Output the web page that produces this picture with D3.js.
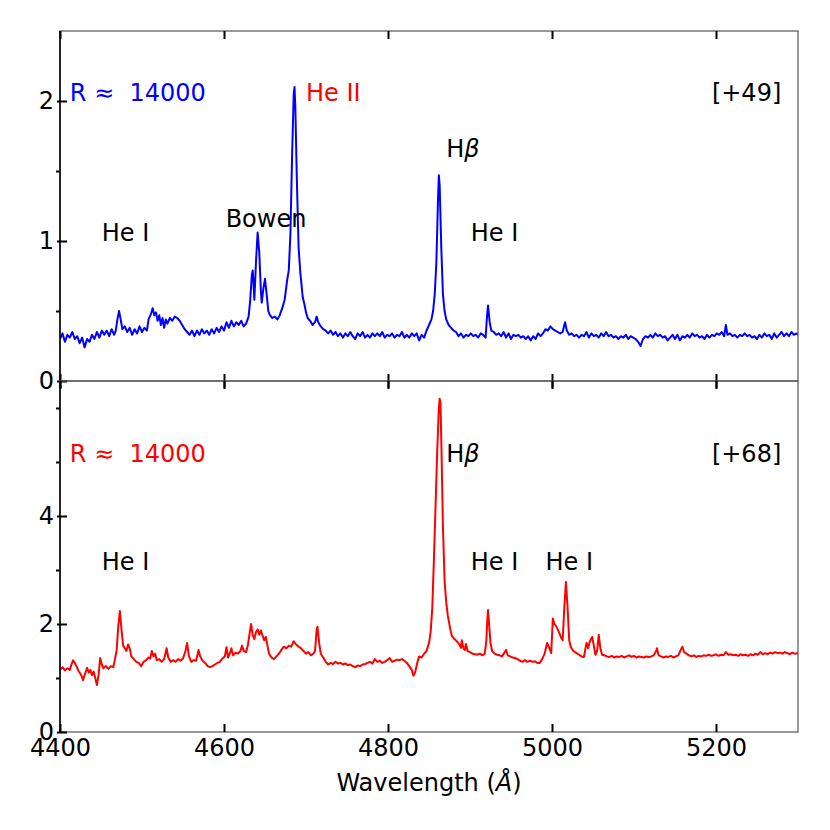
<!DOCTYPE html>
<html>
<head>
<meta charset="utf-8">
<script src="https://cdn.jsdelivr.net/npm/d3@7"></script>
<style>
  body { margin: 0; background: #fff; }
  text { font-family: "DejaVu Sans", sans-serif; white-space: pre; }
</style>
</head>
<body>
<div id="chart"></div>
<script>
// wavelength range and tick labels
const waveDomain = [4400, 5300];
const waveTicks = [4400, 4600, 4800, 5000, 5200];
const topTicks = [0, 1, 2];
const topMinor = [0.5, 1.5];
const botTicks = [0, 2, 4];
const botMinor = [1, 3, 5, 6];

// top spectrum [wavelength, flux]
const topSpec = [
  [4400,0.30],[4403,0.34],[4406,0.28],[4409,0.33],[4412,0.31],[4415,0.35],[4418,0.30],[4421,0.32],[4424,0.27],[4427,0.31],
  [4430,0.24],[4433,0.30],[4436,0.28],[4439,0.33],[4442,0.30],[4445,0.35],[4448,0.31],[4451,0.36],[4454,0.33],[4457,0.36],
  [4460,0.32],[4463,0.37],[4466,0.33],[4468,0.36],[4470,0.44],[4472,0.50],[4474,0.44],[4476,0.37],[4479,0.39],[4482,0.35],
  [4485,0.38],[4488,0.33],[4491,0.37],[4494,0.34],[4497,0.39],[4500,0.35],[4503,0.38],[4506,0.36],[4508,0.44],[4511,0.48],
  [4513,0.52],[4515,0.47],[4517,0.49],[4519,0.43],[4521,0.47],[4523,0.40],[4525,0.45],[4527,0.38],[4529,0.44],[4531,0.41],
  [4534,0.45],[4537,0.43],[4540,0.46],[4543,0.45],[4546,0.43],[4549,0.40],[4552,0.37],[4555,0.35],[4558,0.33],[4561,0.36],
  [4564,0.32],[4567,0.36],[4570,0.33],[4573,0.37],[4576,0.34],[4579,0.36],[4582,0.33],[4585,0.37],[4588,0.34],[4591,0.38],
  [4594,0.35],[4597,0.39],[4600,0.36],[4603,0.42],[4606,0.38],[4609,0.43],[4612,0.39],[4615,0.42],[4618,0.40],[4621,0.43],
  [4624,0.39],[4627,0.41],[4630,0.46],[4632,0.58],[4634,0.76],[4635,0.79],[4636,0.70],[4637,0.58],[4639,0.85],[4641,1.06],
  [4643,0.92],[4645,0.64],[4646,0.56],[4648,0.66],[4650,0.73],[4652,0.62],[4654,0.50],[4656,0.47],[4659,0.45],[4662,0.46],
  [4665,0.44],[4668,0.47],[4671,0.52],[4674,0.58],[4677,0.72],[4679,0.79],[4681,1.05],[4683,1.60],[4685,2.05],[4686,2.10],
  [4687,1.95],[4689,1.40],[4691,0.95],[4693,0.78],[4696,0.60],[4698,0.55],[4700,0.49],[4702,0.45],[4705,0.43],[4708,0.40],
  [4711,0.42],[4713,0.46],[4715,0.42],[4718,0.39],[4721,0.37],[4724,0.36],[4727,0.34],[4730,0.36],[4733,0.33],[4736,0.35],
  [4739,0.32],[4742,0.34],[4745,0.31],[4748,0.34],[4751,0.32],[4754,0.35],[4757,0.32],[4760,0.30],[4763,0.34],[4766,0.32],
  [4769,0.35],[4772,0.31],[4775,0.33],[4778,0.31],[4781,0.34],[4784,0.32],[4787,0.34],[4790,0.32],[4793,0.35],[4796,0.31],
  [4799,0.33],[4802,0.32],[4805,0.34],[4808,0.31],[4811,0.33],[4814,0.32],[4817,0.35],[4820,0.31],[4823,0.33],[4826,0.31],
  [4829,0.34],[4832,0.32],[4835,0.34],[4838,0.29],[4841,0.33],[4844,0.31],[4847,0.36],[4850,0.40],[4853,0.44],[4855,0.50],
  [4857,0.62],[4859,0.85],[4861,1.30],[4862,1.47],[4863,1.40],[4865,0.95],[4867,0.62],[4869,0.50],[4871,0.44],[4874,0.40],
  [4877,0.38],[4880,0.36],[4883,0.35],[4886,0.32],[4889,0.34],[4892,0.31],[4895,0.33],[4898,0.32],[4901,0.34],[4904,0.32],
  [4907,0.33],[4910,0.31],[4913,0.34],[4916,0.33],[4919,0.31],[4921,0.48],[4922,0.54],[4924,0.42],[4926,0.36],[4929,0.35],
  [4932,0.33],[4935,0.34],[4938,0.32],[4941,0.35],[4944,0.31],[4947,0.34],[4950,0.30],[4953,0.33],[4956,0.32],[4959,0.33],
  [4962,0.31],[4965,0.32],[4968,0.30],[4971,0.32],[4974,0.29],[4977,0.32],[4980,0.30],[4983,0.34],[4986,0.32],[4989,0.34],
  [4992,0.37],[4995,0.36],[4998,0.39],[5001,0.37],[5004,0.36],[5007,0.35],[5010,0.34],[5013,0.35],[5015,0.40],[5016,0.42],
  [5018,0.36],[5021,0.33],[5024,0.34],[5027,0.32],[5030,0.33],[5033,0.31],[5036,0.33],[5039,0.32],[5042,0.35],[5045,0.31],
  [5048,0.34],[5051,0.32],[5054,0.33],[5057,0.31],[5060,0.34],[5063,0.32],[5066,0.35],[5069,0.32],[5072,0.33],[5075,0.31],
  [5078,0.32],[5081,0.30],[5084,0.32],[5087,0.31],[5090,0.33],[5093,0.30],[5096,0.32],[5099,0.31],[5102,0.30],[5105,0.28],
  [5108,0.25],[5111,0.30],[5114,0.32],[5117,0.31],[5120,0.33],[5123,0.31],[5126,0.34],[5129,0.32],[5132,0.33],[5135,0.31],
  [5138,0.32],[5141,0.29],[5144,0.31],[5147,0.33],[5150,0.30],[5153,0.33],[5156,0.29],[5159,0.32],[5162,0.31],[5165,0.33],
  [5168,0.31],[5171,0.34],[5174,0.32],[5177,0.33],[5180,0.31],[5183,0.32],[5186,0.30],[5189,0.33],[5192,0.31],[5195,0.33],
  [5198,0.32],[5201,0.34],[5204,0.33],[5207,0.35],[5210,0.32],[5212,0.40],[5214,0.33],[5217,0.34],[5220,0.32],[5223,0.33],
  [5226,0.31],[5229,0.33],[5232,0.32],[5235,0.34],[5238,0.32],[5241,0.33],[5244,0.31],[5247,0.32],[5250,0.30],[5253,0.33],
  [5256,0.31],[5259,0.34],[5262,0.32],[5265,0.33],[5268,0.30],[5271,0.34],[5274,0.31],[5277,0.33],[5280,0.35],[5283,0.32],
  [5286,0.34],[5289,0.32],[5292,0.35],[5295,0.33],[5298,0.34],[5300,0.33]
];

// bottom spectrum [wavelength, flux]
const botSpec = [
  [4400,1.15],[4403,1.20],[4406,1.14],[4409,1.18],[4412,1.15],[4414,1.25],[4416,1.33],[4418,1.28],[4420,1.22],[4423,1.12],
  [4426,1.05],[4428,0.96],[4430,1.05],[4433,1.19],[4435,1.10],[4437,1.15],[4439,1.05],[4441,1.12],[4443,1.00],[4445,0.87],
  [4447,1.05],[4449,1.37],[4451,1.25],[4453,1.18],[4456,1.22],[4459,1.17],[4462,1.22],[4465,1.20],[4467,1.35],[4469,1.50],
  [4471,1.95],[4473,2.24],[4475,1.90],[4477,1.60],[4479,1.55],[4481,1.50],[4483,1.62],[4485,1.55],[4487,1.40],[4490,1.35],
  [4493,1.30],[4496,1.28],[4499,1.22],[4502,1.30],[4505,1.33],[4508,1.38],[4510,1.36],[4512,1.50],[4514,1.40],[4516,1.45],
  [4518,1.33],[4521,1.35],[4524,1.30],[4527,1.35],[4530,1.55],[4532,1.38],[4535,1.30],[4538,1.33],[4541,1.30],[4544,1.35],
  [4547,1.32],[4550,1.36],[4553,1.50],[4555,1.65],[4557,1.42],[4560,1.30],[4563,1.33],[4566,1.32],[4569,1.52],[4571,1.40],
  [4574,1.32],[4577,1.28],[4580,1.22],[4583,1.20],[4586,1.22],[4589,1.25],[4592,1.28],[4595,1.30],[4598,1.36],[4601,1.40],
  [4603,1.57],[4605,1.38],[4607,1.45],[4609,1.55],[4611,1.42],[4614,1.47],[4617,1.45],[4620,1.50],[4622,1.60],[4624,1.50],
  [4627,1.48],[4629,1.60],[4631,1.80],[4633,2.00],[4635,1.80],[4637,1.72],[4639,1.85],[4641,1.90],[4643,1.80],[4645,1.88],
  [4647,1.78],[4649,1.70],[4651,1.76],[4653,1.60],[4655,1.45],[4658,1.38],[4661,1.35],[4664,1.40],[4667,1.45],[4670,1.52],
  [4673,1.58],[4676,1.55],[4679,1.60],[4682,1.58],[4685,1.68],[4688,1.62],[4691,1.58],[4694,1.55],[4697,1.50],[4700,1.45],
  [4703,1.48],[4706,1.42],[4709,1.45],[4711,1.50],[4713,1.90],[4714,1.95],[4716,1.65],[4718,1.45],[4721,1.38],[4724,1.30],
  [4727,1.25],[4730,1.28],[4733,1.26],[4736,1.30],[4739,1.27],[4742,1.28],[4745,1.25],[4748,1.27],[4751,1.24],[4754,1.25],
  [4757,1.22],[4760,1.20],[4763,1.23],[4766,1.22],[4769,1.25],[4772,1.26],[4775,1.28],[4778,1.30],[4781,1.27],[4784,1.35],
  [4787,1.30],[4790,1.32],[4793,1.28],[4796,1.30],[4799,1.33],[4802,1.37],[4805,1.30],[4808,1.32],[4811,1.34],[4814,1.33],
  [4817,1.35],[4820,1.32],[4823,1.28],[4826,1.22],[4829,1.15],[4831,1.04],[4833,1.10],[4836,1.30],[4838,1.40],[4841,1.38],
  [4844,1.45],[4847,1.50],[4850,1.65],[4852,1.85],[4854,2.30],[4856,3.20],[4858,4.20],[4860,5.20],[4862,6.00],[4863,6.17],
  [4864,6.10],[4865,5.40],[4866,4.60],[4867,3.80],[4869,2.80],[4871,2.40],[4873,2.15],[4876,1.90],[4878,1.78],[4881,1.72],
  [4884,1.68],[4887,1.62],[4889,1.56],[4890,1.70],[4892,1.55],[4894,1.52],[4895,1.63],[4897,1.50],[4900,1.48],[4903,1.45],
  [4906,1.44],[4909,1.43],[4912,1.45],[4915,1.42],[4918,1.45],[4920,1.70],[4921,2.05],[4922,2.26],[4923,2.05],[4925,1.65],
  [4927,1.50],[4930,1.45],[4933,1.43],[4936,1.42],[4939,1.40],[4942,1.47],[4944,1.52],[4946,1.42],[4949,1.40],[4952,1.38],
  [4955,1.37],[4958,1.35],[4961,1.32],[4964,1.30],[4967,1.33],[4970,1.30],[4973,1.32],[4976,1.30],[4979,1.31],[4982,1.28],
  [4985,1.28],[4988,1.35],[4991,1.45],[4994,1.65],[4997,1.55],[4999,1.46],[5001,2.10],[5003,2.00],[5005,1.96],[5007,1.90],
  [5009,1.83],[5011,1.75],[5013,1.70],[5015,2.30],[5017,2.78],[5019,2.30],[5021,1.70],[5023,1.57],[5026,1.50],[5029,1.47],
  [5033,1.43],[5036,1.40],[5039,1.39],[5042,1.65],[5044,1.55],[5046,1.67],[5049,1.76],[5051,1.60],[5053,1.43],[5055,1.50],
  [5057,1.80],[5059,1.55],[5061,1.43],[5064,1.42],[5067,1.40],[5070,1.39],[5073,1.41],[5076,1.38],[5079,1.40],[5082,1.39],
  [5085,1.41],[5088,1.38],[5091,1.40],[5094,1.42],[5097,1.39],[5100,1.41],[5103,1.38],[5106,1.40],[5109,1.39],[5112,1.38],
  [5115,1.40],[5118,1.39],[5121,1.40],[5124,1.42],[5127,1.50],[5128,1.55],[5130,1.42],[5133,1.40],[5136,1.38],[5139,1.40],
  [5142,1.39],[5145,1.41],[5148,1.38],[5151,1.40],[5154,1.42],[5157,1.52],[5159,1.58],[5161,1.48],[5164,1.45],[5167,1.42],
  [5170,1.40],[5173,1.42],[5176,1.39],[5179,1.41],[5182,1.40],[5185,1.42],[5188,1.41],[5191,1.43],[5194,1.41],[5197,1.42],
  [5200,1.44],[5203,1.41],[5206,1.43],[5209,1.42],[5212,1.48],[5215,1.43],[5218,1.44],[5221,1.42],[5224,1.43],[5227,1.41],
  [5230,1.44],[5233,1.42],[5236,1.43],[5239,1.41],[5242,1.44],[5245,1.42],[5248,1.45],[5251,1.43],[5254,1.48],[5257,1.44],
  [5260,1.46],[5263,1.44],[5266,1.47],[5269,1.45],[5272,1.48],[5275,1.46],[5278,1.47],[5281,1.45],[5284,1.48],[5287,1.46],
  [5290,1.44],[5293,1.47],[5296,1.45],[5300,1.46]
];

// line labels: [text, wavelength, flux, colour]
const topLabels = [
  ["R ≈  14000", 4412, 2.0, "#0000ff"],
  ["He II", 4700, 2.0, "#ff0000"],
  ["[+49]", 5195, 2.0, "#000"],
  ["Hβ", 4871, 1.6, "#000"],
  ["He I", 4451, 1.0, "#000"],
  ["Bowen", 4602, 1.1, "#000"],
  ["He I", 4901, 1.0, "#000"]
];
const botLabels = [
  ["R ≈  14000", 4412, 5.0, "#ff0000"],
  ["Hβ", 4871, 5.0, "#000"],
  ["[+68]", 5195, 5.0, "#000"],
  ["He I", 4451, 3.0, "#000"],
  ["He I", 4901, 3.0, "#000"],
  ["He I", 4992, 3.0, "#000"]
];

const W = 830, H = 830;
const left = 60, right = 798, top1 = 31, mid = 381, bot2 = 732;

const svg = d3.select("#chart").append("svg")
  .attr("width", W).attr("height", H);

const x = d3.scaleLinear().domain(waveDomain).range([left, right]);

function panel(spec, yDomain, yTop, yBot, major, minor, labels, colour, isBottom) {
  const y = d3.scaleLinear().domain(yDomain).range([yBot, yTop]);
  const g = svg.append("g");

  g.append("clipPath").attr("id", "clip" + yTop)
    .append("rect").attr("x", left).attr("y", yTop)
    .attr("width", right - left).attr("height", yBot - yTop);

  const line = d3.line().x(d => x(d[0])).y(d => y(d[1]));
  g.append("path")
    .datum(spec)
    .attr("clip-path", "url(#clip" + yTop + ")")
    .attr("fill", "none")
    .attr("stroke", colour)
    .attr("stroke-width", 2)
    .attr("stroke-linejoin", "round")
    .attr("d", line);

  // frame
  g.append("rect").attr("x", left).attr("y", yTop)
    .attr("width", right - left).attr("height", yBot - yTop)
    .attr("fill", "none").attr("stroke", "#555").attr("stroke-width", 1.2);
  g.append("line").attr("x1", left).attr("x2", left)
    .attr("y1", yTop).attr("y2", yBot)
    .attr("stroke", "#000").attr("stroke-width", 1.5);

  // y axis, major ticks cross the spine
  const ya = g.append("g").attr("transform", `translate(${left},0)`)
    .call(d3.axisLeft(y).tickValues(major).tickSize(3).tickPadding(3).tickFormat(d3.format("d")));
  ya.select(".domain").remove();
  ya.selectAll(".tick line").attr("x1", 7).attr("stroke", "#000").attr("stroke-width", 2);
  ya.selectAll(".tick text")
    .attr("font-size", 24).attr("font-family", "DejaVu Sans").attr("fill", "#000");

  const ym = g.append("g").attr("transform", `translate(${left},0)`)
    .call(d3.axisLeft(y).tickValues(minor).tickSize(4).tickFormat(""));
  ym.select(".domain").remove();
  ym.selectAll(".tick line").attr("stroke", "#000").attr("stroke-width", 2);

  // x ticks on top and bottom of the panel
  const xt = g.append("g").attr("transform", `translate(0,${yTop})`)
    .call(d3.axisBottom(x).tickValues(waveTicks).tickSize(8).tickFormat(""));
  xt.select(".domain").remove();
  xt.selectAll(".tick line").attr("stroke", "#000").attr("stroke-width", 2);

  const xb = g.append("g").attr("transform", `translate(0,${yBot})`)
    .call(d3.axisTop(x).tickValues(waveTicks).tickSize(isBottom ? 8 : 7).tickFormat(""));
  xb.select(".domain").remove();
  xb.selectAll(".tick line").attr("stroke", "#000").attr("stroke-width", 2);
  if (!isBottom) xb.selectAll(".tick line").attr("y1", 7);

  // line labels
  labels.forEach(l => {
    const t = g.append("text")
      .attr("x", x(l[1])).attr("y", y(l[2]))
      .attr("font-size", 24).attr("fill", l[3]);
    if (l[0] === "Hβ") {
      t.append("tspan").text("H");
      t.append("tspan").attr("font-style", "italic").text("β");
    } else {
      t.text(l[0]);
    }
  });
  return y;
}

panel(topSpec, [0, 2.5], top1, mid, topTicks, topMinor, topLabels, "#0000ff", false);
panel(botSpec, [0, 6.5], mid, bot2, botTicks, botMinor, botLabels, "#ff0000", true);

// wavelength tick labels
const xl = svg.append("g").attr("transform", `translate(0,${bot2})`)
  .call(d3.axisBottom(x).tickValues(waveTicks).tickSize(0).tickPadding(7).tickFormat(d3.format("d")));
xl.select(".domain").remove();
xl.selectAll(".tick text")
  .attr("font-size", 24).attr("font-family", "DejaVu Sans").attr("fill", "#000");

const xlab = svg.append("text")
  .attr("x", (left + right) / 2).attr("y", 791)
  .attr("text-anchor", "middle").attr("font-size", 24).attr("fill", "#000");
xlab.append("tspan").text("Wavelength (");
xlab.append("tspan").attr("font-style", "italic").text("Å");
xlab.append("tspan").text(")");
</script>
</body>
</html>
